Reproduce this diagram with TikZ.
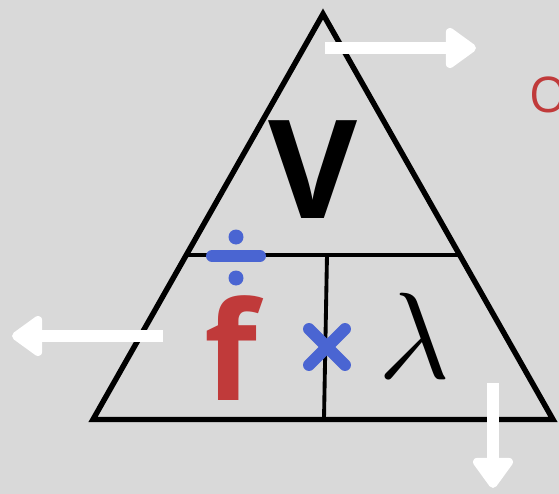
\documentclass[tikz,border=0pt]{standalone}
\usepackage{fontspec}
\newfontfamily\opensans{Open Sans}
\newfontfamily\lmmath{Latin Modern Math}
\usetikzlibrary{arrows.meta,calc}
\definecolor{PanelGray}{RGB}{217,217,217}
\definecolor{FreqRed}{RGB}{192,58,58}
\definecolor{OpBlue}{RGB}{74,101,210}

\begin{document}
\begin{tikzpicture}[x=0.02cm, y=-0.02cm]
  \tikzset{
    edge/.style={line width=3.1pt, line join=miter},
    split/.style={line width=2.2pt},
    move/.style={white, line width=6.8pt, -{Triangle[length=19pt, width=26pt, round]}},
    opsign/.style={OpBlue, line width=6.8pt, line cap=round},
    bigletter/.style={inner sep=0pt, anchor=base, font=\opensans\bfseries\fontsize{78}{80}\selectfont}
  }
  % background and page size
  \fill[PanelGray] (0,0) rectangle (559,494);
  \useasboundingbox (0,0) rectangle (559,494);
  % triangle
  \coordinate (apex) at (323,14);
  \coordinate (left) at (93,419.5);
  \coordinate (right) at (553,419.5);
  \draw[edge] (apex) -- (left) -- (right) -- cycle;
  \coordinate (midL) at ($(apex)!0.5946!(left)$);
  \coordinate (midR) at ($(apex)!0.5946!(right)$);
  \draw[split] (midL) -- (midR);
  \coordinate (splitTop) at (327,255);
  \coordinate (splitBot) at (324,419);
  \draw[split] (splitTop) -- (splitBot);
  % letters
  \node[bigletter] (speed) at (313,218) {V};
  \node[bigletter, text=FreqRed] (freq) at (231,400) {f};
  \node[inner sep=0pt, anchor=base, font=\lmmath\fontsize{70}{72}\selectfont] (wave) at (414,378) {𝜆};
  \node[inner sep=0pt, anchor=base west, text=FreqRed, font=\opensans\fontsize{28}{30}\selectfont] (note) at (529,112) {O};
  % divide and times signs
  \coordinate (divL) at (212,256);
  \coordinate (divR) at (260,256);
  \draw[opsign] (divL) -- (divR);
  \fill[OpBlue] (236,237) circle (7.5);
  \fill[OpBlue] (236,278) circle (7.5);
  \coordinate (crossA) at (309,329);
  \coordinate (crossB) at (345,365);
  \coordinate (crossC) at (309,365);
  \coordinate (crossD) at (345,329);
  \draw[opsign] (crossA) -- (crossB);
  \draw[opsign] (crossC) -- (crossD);
  % arrows
  \coordinate (upStart) at (325,48);
  \coordinate (upEnd) at (476,48);
  \draw[move] (upStart) -- (upEnd);
  \coordinate (lStart) at (163,336);
  \coordinate (lEnd) at (12,336);
  \draw[move] (lStart) -- (lEnd);
  \coordinate (dStart) at (493,383);
  \coordinate (dEnd) at (493,488);
  \draw[move] (dStart) -- (dEnd);
\end{tikzpicture}
\end{document}
